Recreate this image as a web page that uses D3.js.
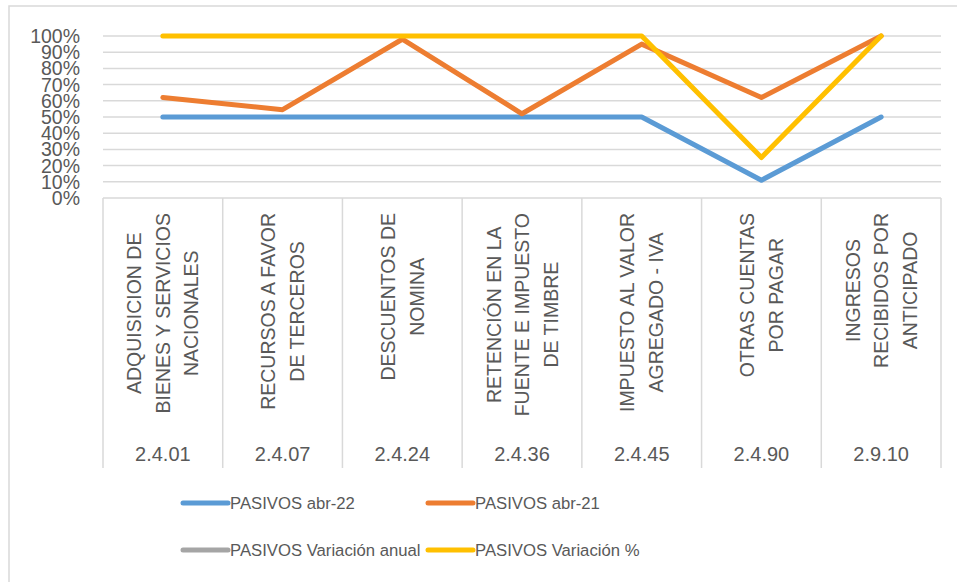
<!DOCTYPE html>
<html>
<head>
<meta charset="utf-8">
<script src="https://cdn.jsdelivr.net/npm/d3@7"></script>
<style>
  html, body { margin: 0; padding: 0; background: #fff; }
  svg { display: block; font-family: "Liberation Sans", Arial, sans-serif; }
</style>
</head>
<body>
<svg id="chart" width="957" height="582"></svg>
<script>
// ---- data ----
const codes = ["2.4.01", "2.4.07", "2.4.24", "2.4.36", "2.4.45", "2.4.90", "2.9.10"];
const categoryLines = [
  ["ADQUISICION DE", "BIENES Y SERVICIOS", "NACIONALES"],
  ["RECURSOS A FAVOR", "DE TERCEROS"],
  ["DESCUENTOS DE", "NOMINA"],
  ["RETENCIÓN EN LA", "FUENTE E IMPUESTO", "DE TIMBRE"],
  ["IMPUESTO AL VALOR", "AGREGADO - IVA"],
  ["OTRAS CUENTAS", "POR PAGAR"],
  ["INGRESOS", "RECIBIDOS POR", "ANTICIPADO"]
];
const pasivosAbr22 = [0.50, 0.50, 0.50, 0.50, 0.50, 0.11, 0.50];
const pasivosAbr21 = [0.62, 0.545, 0.98, 0.52, 0.95, 0.62, 1.00];
const pasivosVariacionAnual = [null, null, null, null, null, null, null]; // off-scale, not drawn
const pasivosVariacionPct = [1.00, 1.00, 1.00, 1.00, 1.00, 0.25, 1.00];
const yTicks = [0, 0.1, 0.2, 0.3, 0.4, 0.5, 0.6, 0.7, 0.8, 0.9, 1.0];
const seriesNames = ["PASIVOS abr-22", "PASIVOS abr-21", "PASIVOS Variación anual", "PASIVOS Variación %"];
const seriesColors = ["#5B9BD5", "#ED7D31", "#A5A5A5", "#FFC000"];

const series = [pasivosAbr22, pasivosAbr21, pasivosVariacionAnual, pasivosVariacionPct].map((vals, i) => ({
  name: seriesNames[i], color: seriesColors[i], values: vals
}));

// ---- layout ----
const svg = d3.select("#chart");
const plot = { left: 103, right: 941, top: 36, bottom: 198 };
const axisBottom = 468;
const textColor = "#595959";
const gridColor = "#D9D9D9";

// outer border (chart area)
svg.append("rect")
  .attr("x", 9).attr("y", 6).attr("width", 980).attr("height", 600)
  .attr("fill", "none").attr("stroke", gridColor).attr("stroke-width", 1.5);

const x = d3.scaleBand().domain(codes).range([plot.left, plot.right]).padding(0);
const y = d3.scaleLinear().domain([0, 1]).range([plot.bottom, plot.top]);

// gridlines
svg.append("g").selectAll("line").data(yTicks.filter(d => d > 0)).join("line")
  .attr("x1", plot.left).attr("x2", plot.right)
  .attr("y1", d => y(d)).attr("y2", d => y(d))
  .attr("stroke", gridColor).attr("stroke-width", 1.5);

// y axis labels
svg.append("g").selectAll("text").data(yTicks).join("text")
  .attr("x", 80).attr("y", d => y(d)).attr("dy", "0.36em")
  .attr("text-anchor", "end")
  .attr("font-size", 19.5).attr("fill", textColor)
  .text(d => d3.format(".0%")(d));

// category axis: horizontal line + separators
const axisG = svg.append("g");
axisG.append("line")
  .attr("x1", plot.left).attr("x2", plot.right)
  .attr("y1", plot.bottom).attr("y2", plot.bottom)
  .attr("stroke", gridColor).attr("stroke-width", 1.5);
const bounds = codes.map(c => x(c)).concat([x(codes[codes.length - 1]) + x.bandwidth()]);
axisG.selectAll("line.sep").data(bounds).join("line").attr("class", "sep")
  .attr("x1", d => d).attr("x2", d => d)
  .attr("y1", plot.bottom).attr("y2", axisBottom)
  .attr("stroke", gridColor).attr("stroke-width", 1.5);

// rotated category labels
const lineGap = 28.5;
const labelTop = 213;
codes.forEach((c, i) => {
  const cx = x(c) + x.bandwidth() / 2;
  const lines = categoryLines[i];
  const g = svg.append("g");
  const texts = lines.map((t, j) => {
    const lx = cx + (j - (lines.length - 1) / 2) * lineGap;
    return g.append("text")
      .attr("font-size", 19.5).attr("fill", textColor)
      .attr("text-anchor", "middle")
      .attr("dy", "0.36em")
      .attr("data-x", lx)
      .text(t);
  });
  const maxLen = d3.max(texts, t => t.node().getComputedTextLength());
  const cy = labelTop + maxLen / 2;
  texts.forEach(t => {
    const lx = +t.attr("data-x");
    t.attr("transform", `translate(${lx},${cy}) rotate(-90)`);
  });
});

// code labels (outer level)
svg.append("g").selectAll("text").data(codes).join("text")
  .attr("x", d => x(d) + x.bandwidth() / 2).attr("y", 461)
  .attr("text-anchor", "middle")
  .attr("font-size", 20).attr("fill", textColor)
  .text(d => d);

// lines
const line = d3.line()
  .defined(d => d.v != null)
  .x(d => x(d.c) + x.bandwidth() / 2)
  .y(d => y(d.v));
svg.append("g").selectAll("path").data(series).join("path")
  .attr("d", s => line(s.values.map((v, i) => ({ c: codes[i], v }))))
  .attr("fill", "none").attr("stroke", s => s.color)
  .attr("stroke-width", 5).attr("stroke-linejoin", "round").attr("stroke-linecap", "round");

// legend
const legendPos = [[183, 503], [428, 503], [183, 550], [428, 550]];
const lg = svg.append("g").selectAll("g").data(series).join("g")
  .attr("transform", (d, i) => `translate(${legendPos[i][0]},${legendPos[i][1]})`);
lg.append("line").attr("x1", 0).attr("x2", 45).attr("y1", 0).attr("y2", 0)
  .attr("stroke", d => d.color).attr("stroke-width", 5).attr("stroke-linecap", "round");
lg.append("text").attr("x", 47).attr("y", 0).attr("dy", "0.36em")
  .attr("font-size", 16.7).attr("fill", textColor)
  .text(d => d.name);
</script>
</body>
</html>
